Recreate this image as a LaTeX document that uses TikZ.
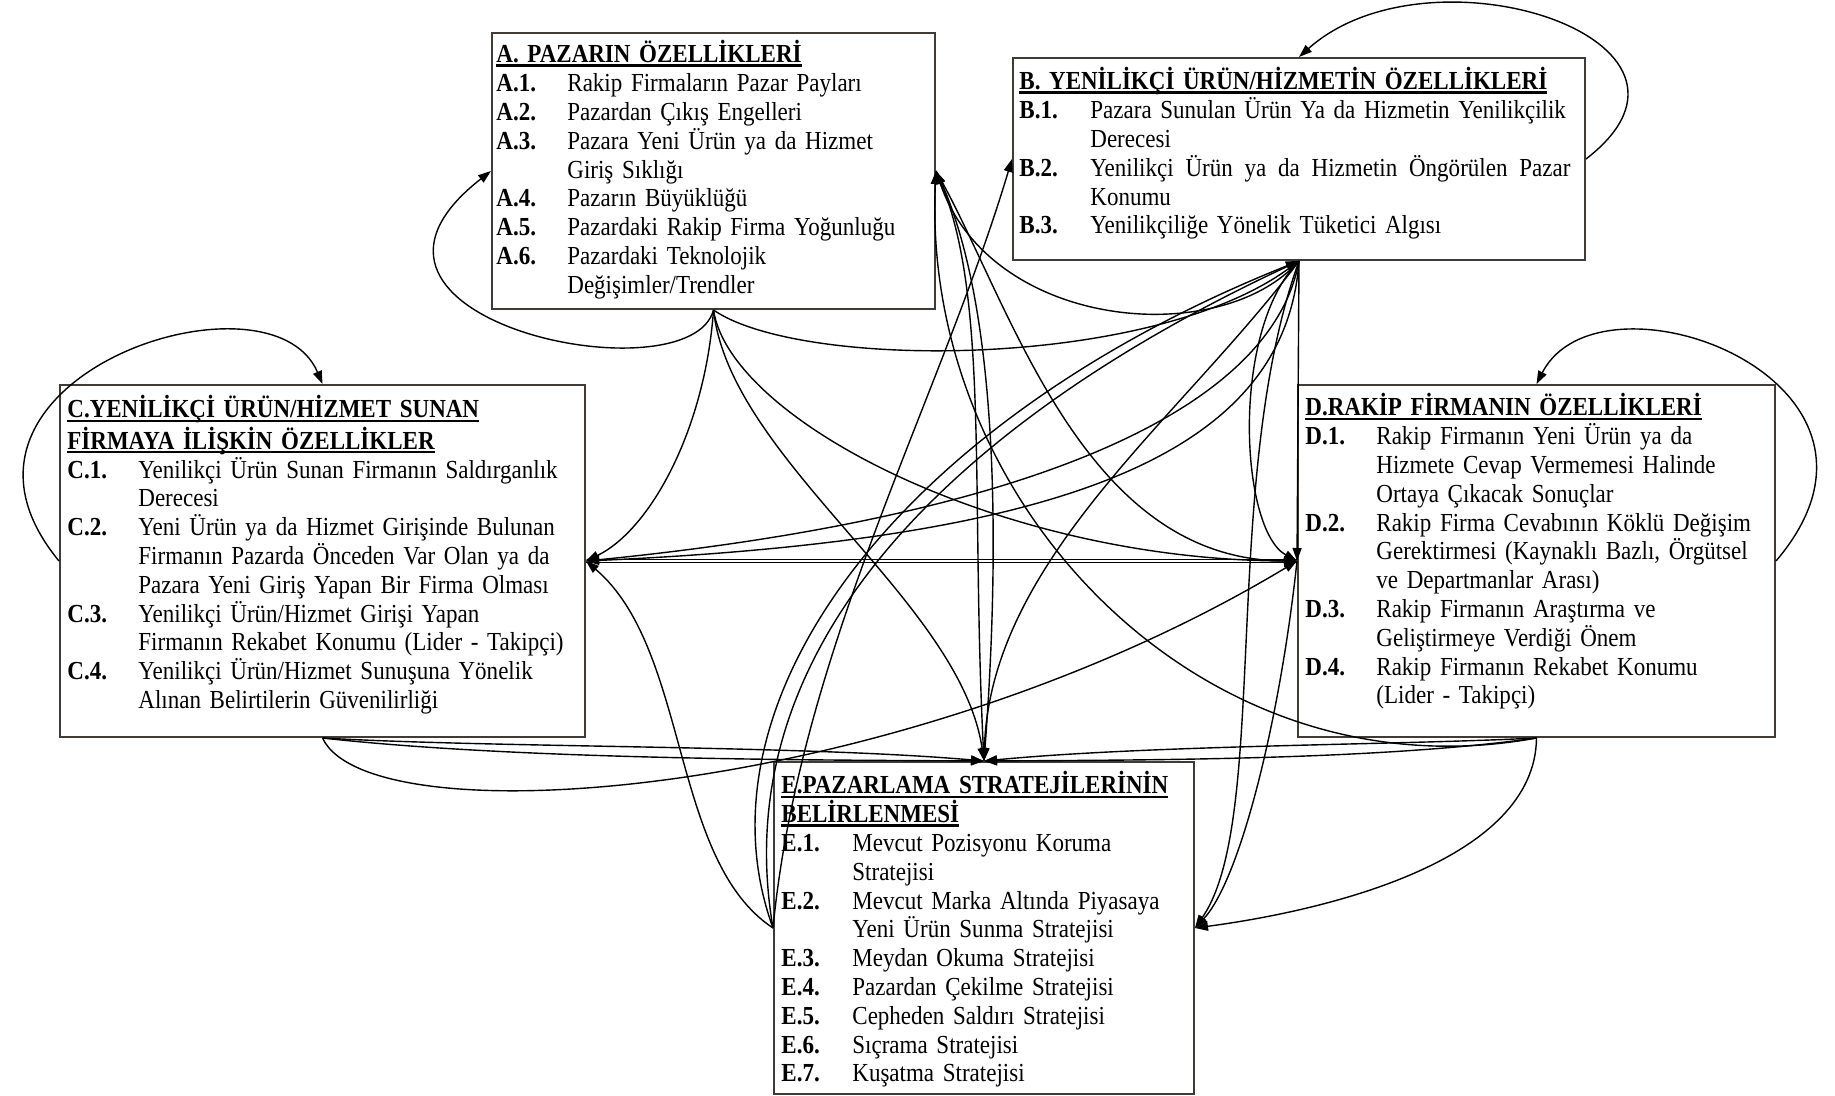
\documentclass[tikz,border=0pt]{standalone}
\usepackage{fontspec}
\setmainfont{Liberation Serif}[FakeStretch=0.885]
\usetikzlibrary{arrows.meta,fit}
\newcommand\lbl[1]{\makebox[35.5pt][l]{\textbf{#1}}}
\newcommand\ctn{\hspace*{35.5pt}}
\newcommand\frl{\rule{0pt}{12pt}}
\newsavebox\ulbox
\newcommand\ulx[1]{\leavevmode\sbox\ulbox{\textbf{#1}}\rlap{\rule[-2pt]{\wd\ulbox}{1.2pt}}\usebox\ulbox}
\definecolor{boxc}{RGB}{66,58,52}
\begin{document}
\begin{tikzpicture}[x=0.5pt,y=-0.5pt,
  box/.style={draw=boxc, line width=1pt, inner sep=0pt},
  txt/.style={anchor=north west, inner sep=0pt, text width=400pt, align=left, font=\fontsize{13pt}{14.4pt}\selectfont},
  arr/.style={-{Triangle[length=6.5pt,width=4.5pt]}, line width=0.7pt}]
\useasboundingbox (0,0) rectangle (1835,1096);
% boxes
\node[box, fit={(492,33) (935,309)}] (A) {};
\node[box, fit={(1013,58) (1585,260)}] (B) {};
\node[box, fit={(60,385) (585,737)}] (C) {};
\node[box, fit={(1298,385) (1775,737)}] (D) {};
\node[box, fit={(774,762) (1194,1094)}] (E) {};
% texts
\node[txt] (At) at (496,38.5) {\frl\ulx{A. PAZARIN ÖZELLİKLERİ}\\
\lbl{A.1.}Rakip Firmaların Pazar Payları\\
\lbl{A.2.}Pazardan Çıkış Engelleri\\
\lbl{A.3.}Pazara Yeni Ürün ya da Hizmet\\
\ctn Giriş Sıklığı\\
\lbl{A.4.}Pazarın Büyüklüğü\\
\lbl{A.5.}Pazardaki Rakip Firma Yoğunluğu\\
\lbl{A.6.}Pazardaki Teknolojik\\
\ctn Değişimler/Trendler};
\node[txt] (Bt) at (1019,65.5) {\frl\ulx{B. YENİLİKÇİ ÜRÜN/HİZMETİN ÖZELLİKLERİ}\\
\lbl{B.1.}Pazara Sunulan Ürün Ya da Hizmetin Yenilikçilik\\
\ctn Derecesi\\
\lbl{B.2.}\makebox[240pt][s]{Yenilikçi\hfill Ürün\hfill ya\hfill da\hfill Hizmetin\hfill Öngörülen\hfill Pazar}\\
\ctn Konumu\\
\lbl{B.3.}Yenilikçiliğe Yönelik Tüketici Algısı};
\node[txt] (Ct) at (67,393.5) {\frl\ulx{C.YENİLİKÇİ ÜRÜN/HİZMET SUNAN}\\
\frl\ulx{FİRMAYA İLİŞKİN ÖZELLİKLER}\\
\lbl{C.1.}Yenilikçi Ürün Sunan Firmanın Saldırganlık\\
\ctn Derecesi\\
\lbl{C.2.}Yeni Ürün ya da Hizmet Girişinde Bulunan\\
\ctn Firmanın Pazarda Önceden Var Olan ya da\\
\ctn Pazara Yeni Giriş Yapan Bir Firma Olması\\
\lbl{C.3.}Yenilikçi Ürün/Hizmet Girişi Yapan\\
\ctn Firmanın Rekabet Konumu (Lider - Takipçi)\\
\lbl{C.4.}Yenilikçi Ürün/Hizmet Sunuşuna Yönelik\\
\ctn Alınan Belirtilerin Güvenilirliği};
\node[txt] (Dt) at (1305,391.5) {\frl\ulx{D.RAKİP FİRMANIN ÖZELLİKLERİ}\\
\lbl{D.1.}Rakip Firmanın Yeni Ürün ya da\\
\ctn Hizmete Cevap Vermemesi Halinde\\
\ctn Ortaya Çıkacak Sonuçlar\\
\lbl{D.2.}Rakip Firma Cevabının Köklü Değişim\\
\ctn Gerektirmesi (Kaynaklı Bazlı, Örgütsel\\
\ctn ve Departmanlar Arası)\\
\lbl{D.3.}Rakip Firmanın Araştırma ve\\
\ctn Geliştirmeye Verdiği Önem\\
\lbl{D.4.}Rakip Firmanın Rekabet Konumu\\
\ctn (Lider - Takipçi)};
\node[txt] (Et) at (781,769.5) {\frl\ulx{E.PAZARLAMA STRATEJİLERİNİN}\\
\frl\ulx{BELİRLENMESİ}\\
\lbl{E.1.}Mevcut Pozisyonu Koruma\\
\ctn Stratejisi\\
\lbl{E.2.}Mevcut Marka Altında Piyasaya\\
\ctn Yeni Ürün Sunma Stratejisi\\
\lbl{E.3.}Meydan Okuma Stratejisi\\
\lbl{E.4.}Pazardan Çekilme Stratejisi\\
\lbl{E.5.}Cepheden Saldırı Stratejisi\\
\lbl{E.6.}Sıçrama Stratejisi\\
\lbl{E.7.}Kuşatma Stratejisi};
% loops
\draw[arr] (A.south) .. controls (690,400) and (300,320) .. (A.west);
\draw[arr] (C.west) .. controls (-90,380) and (270,260) .. (C.north);
\draw[arr] (B.east) .. controls (1740,40) and (1430,-60) .. (B.north);
\draw[arr] (D.east) .. controls (1930,380) and (1600,260) .. (D.north);
% from A
\draw[arr] (A.south) .. controls (705,430) and (650,530) .. (C.east);
\draw[arr] (A.south) .. controls (730,460) and (960,600) .. (E.north);
\draw[arr] (A.south) .. controls (730,420) and (1000,560) .. (D.west);
\draw[arr] (A.south) .. controls (800,370) and (1150,370) .. (B.south);
\draw[arr] (A.east) .. controls (1010,300) and (1080,560) .. (D.west);
\draw[arr] (A.east) .. controls (1000,300) and (1000,550) .. (E.north);
% from B
\draw[arr] (B.south) .. controls (1220,350) and (990,330) .. (A.east);
\draw[arr] (B.south) .. controls (1270,420) and (1000,520) .. (C.east);
\draw[arr] (B.south) .. controls (1285,460) and (1050,540) .. (C.east);
\draw[arr] (B.south) -- (D.west);
\draw[arr] (B.south) .. controls (1230,330) and (1240,530) .. (D.west);
\draw[arr] (B.south) .. controls (1220,480) and (1270,820) .. (E.east);
\draw[arr] (B.south) .. controls (1180,420) and (990,560) .. (E.north);
% C and D
\draw[arr] ([yshift=-0.8pt]C.east) -- ([yshift=-0.8pt]D.west);
\draw[arr] ([yshift=0.8pt]D.west) -- ([yshift=0.8pt]C.east);
\draw[arr] (D.west) .. controls (1280,720) and (1240,880) .. (E.east);
\draw[arr] (D.south) .. controls (1535,860) and (1330,910) .. (E.east);
\draw[arr] (C.south) .. controls (370,840) and (900,800) .. (D.west);
\draw[arr] (C.south) .. controls (500,748) and (800,745) .. (E.north);
\draw[arr] (C.south) .. controls (520,760) and (820,760) .. (E.north);
\draw[arr] (D.south) .. controls (1400,745) and (1150,745) .. (E.north);
\draw[arr] (D.south) .. controls (1380,760) and (1150,760) .. (E.north);
\draw[arr] (D.south) .. controls (1200,800) and (920,500) .. (A.east);
% from E
\draw[arr] (E.west) .. controls (670,860) and (690,650) .. (C.east);
\draw[arr] (E.west) .. controls (690,700) and (900,420) .. (B.south);
\draw[arr] (E.west) .. controls (720,620) and (1000,400) .. (B.south);
\draw[arr] (E.west) .. controls (800,650) and (940,400) .. (B.west);
\draw[arr] (E.north) .. controls (970,500) and (990,300) .. (A.east);
\end{tikzpicture}
\end{document}
